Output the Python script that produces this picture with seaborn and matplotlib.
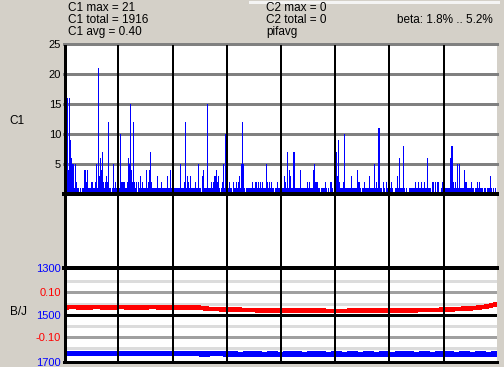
import matplotlib
matplotlib.use("Agg")
import matplotlib.pyplot as plt
import seaborn as sns

# ---------------- data ----------------
header_left = ["C1 max = 21", "C1 total = 1916", "C1 avg = 0.40"]
header_mid = ["C2 max = 0", "C2 total = 0", "pifavg"]
header_right = "beta: 1.8% .. 5.2%"

c1_ticks = [5, 10, 15, 20, 25]
bj_ticks = [1300, 1500, 1700]
red_ticks = [0.10, -0.10]
red_tick_labels = ["0.10", "-0.10"]
red_minor = [0.15, 0.05, -0.05, -0.15]

# C1 counts per screen column
c1_counts = [
    11, 11, 5, 16, 4, 16, 9, 6, 5, 5, 1, 5, 2, 1, 1, 0,
    1, 0, 1, 1, 4, 4, 2, 4, 1, 1, 1, 2, 2, 1, 1, 2,
    5, 1, 21, 3, 6, 4, 7, 2, 1, 2, 3, 2, 12, 1, 1, 0,
    1, 5, 1, 2, 1, 1, 1, 1, 10, 2, 2, 2, 2, 1, 1, 2,
    6, 5, 15, 4, 2, 12, 2, 1, 2, 0, 2, 1, 3, 1, 2, 1,
    1, 1, 4, 1, 2, 4, 7, 2, 1, 1, 1, 1, 1, 3, 1, 1,
    1, 2, 1, 1, 1, 1, 1, 3, 1, 1, 4, 1, 1, 1, 1, 1,
    1, 1, 1, 1, 5, 1, 1, 1, 2, 12, 1, 3, 2, 1, 3, 1,
    1, 1, 1, 2, 1, 1, 5, 1, 1, 0, 3, 4, 1, 1, 1, 15,
    1, 1, 1, 2, 1, 2, 3, 3, 4, 2, 3, 1, 0, 1, 2, 5,
    1, 10, 10, 5, 1, 2, 1, 1, 0, 2, 1, 1, 2, 1, 2, 3,
    1, 5, 12, 5, 1, 0, 1, 1, 1, 1, 1, 1, 2, 1, 1, 2,
    2, 1, 2, 1, 2, 1, 2, 1, 1, 1, 5, 2, 1, 2, 1, 2,
    1, 1, 0, 1, 1, 2, 1, 1, 1, 1, 1, 1, 3, 2, 1, 7,
    1, 4, 3, 1, 1, 7, 7, 1, 1, 1, 1, 1, 4, 1, 1, 1,
    1, 1, 1, 2, 1, 2, 1, 1, 1, 4, 5, 2, 2, 2, 1, 1,
    0, 1, 1, 1, 1, 2, 1, 0, 1, 0, 2, 2, 1, 0, 1, 2,
    7, 3, 9, 2, 1, 1, 1, 2, 10, 1, 1, 1, 1, 1, 1, 3,
    1, 1, 1, 1, 1, 4, 2, 2, 1, 0, 1, 1, 2, 1, 1, 1,
    1, 3, 1, 1, 1, 1, 5, 1, 2, 1, 11, 11, 1, 1, 0, 2,
    1, 0, 2, 1, 1, 1, 1, 2, 1, 0, 0, 1, 1, 3, 1, 6,
    1, 1, 1, 8, 1, 0, 1, 0, 0, 1, 1, 1, 1, 1, 1, 2,
    1, 1, 2, 1, 1, 2, 1, 1, 2, 1, 1, 6, 1, 1, 1, 0,
    2, 2, 0, 2, 0, 2, 2, 0, 0, 1, 2, 1, 1, 1, 1, 1,
    1, 1, 6, 8, 8, 2, 1, 2, 1, 5, 1, 5, 1, 1, 1, 1,
    4, 2, 2, 1, 1, 1, 1, 2, 1, 1, 0, 1, 1, 2, 1, 2,
    1, 1, 1, 0, 1, 1, 0, 1, 1, 1, 3, 1, 0, 1, 0, 1,
    0,
]
bar_idx = list(range(len(c1_counts)))

# B/J lines, sampled every 8 columns
line_x = list(range(0, 433, 8))
red_vals = [
    0.033, 0.034, 0.033, 0.033, 0.034, 0.033, 0.033, 0.034, 0.033, 0.033,
    0.033, 0.034, 0.033, 0.032, 0.032, 0.032, 0.031, 0.031, 0.026, 0.025,
    0.024, 0.023, 0.022, 0.021, 0.020, 0.020, 0.020, 0.019, 0.019, 0.019,
    0.019, 0.018, 0.018, 0.017, 0.017, 0.017, 0.018, 0.018, 0.018, 0.019,
    0.020, 0.020, 0.020, 0.020, 0.020, 0.021, 0.021, 0.022, 0.023, 0.025,
    0.027, 0.029, 0.033, 0.038, 0.047,
]
blue_vals = [
    1665, 1666, 1665, 1666, 1665, 1666, 1666, 1665, 1666, 1665,
    1666, 1665, 1666, 1666, 1665, 1666, 1666, 1667, 1667, 1666,
    1667, 1667, 1668, 1667, 1667, 1668, 1667, 1668, 1667, 1667,
    1668, 1667, 1667, 1668, 1667, 1668, 1667, 1668, 1667, 1668,
    1667, 1668, 1667, 1667, 1668, 1667, 1668, 1667, 1667, 1668,
    1667, 1668, 1667, 1668, 1667,
]

# ---------------- style ----------------
plt.rcParams["font.family"] = ["Liberation Sans", "DejaVu Sans"]
plt.rcParams["lines.antialiased"] = False

W, H = 504, 367
BG = "#D4D0C8"
BLUE = "#0000FF"
RED = "#FF0000"
FS = 8
FS_HEAD = 8.5


def px2pt(p):
    return p * 72.0 / 100.0


def rect(x0, y0, x1, y1):
    return [x0 / W, 1 - y1 / H, (x1 - x0) / W, (y1 - y0) / H]


def ftext(x, y, s, size=FS, **kw):
    fig.text(x / W, 1 - y / H, s, fontsize=size, **kw)


fig = plt.figure(figsize=(W / 100, H / 100), dpi=100, facecolor=BG)

# white plotting area
ax_bg = fig.add_axes(rect(64, 44.5, 497, 363))
ax_bg.set_facecolor("white")
ax_bg.set_xticks([])
ax_bg.set_yticks([])
for s in ax_bg.spines.values():
    s.set_visible(False)

# top strip line
fig.add_artist(plt.Line2D([250 / W, 498 / W], [1 - 1.5 / H, 1 - 1.5 / H],
                          color="#F4F4F4", lw=px2pt(1.2)))

# ---------------- C1 bars ----------------
ax_top = fig.add_axes(rect(64, 44, 497, 194))
ax_top.patch.set_alpha(0)
for v in c1_ticks:
    ax_top.axhline(v, color="#808080", lw=px2pt(1.3), zorder=0, clip_on=False)
sns.barplot(x=bar_idx, y=c1_counts, native_scale=True, width=1,
            color=BLUE, saturation=1, errorbar=None, linewidth=0,
            ax=ax_top, zorder=2)
for p in ax_top.patches:
    p.set_snap(False)
    p.set_antialiased(True)
    p.set_edgecolor("none")
ax_top.axhline(0, color="black", lw=px2pt(2.2), zorder=3, clip_on=False)
ax_top.set_xlim(-0.5, len(c1_counts) - 0.5)
ax_top.set_ylim(0, 25)
ax_top.set_yticks(c1_ticks)
ax_top.set_yticklabels([str(v) for v in c1_ticks], fontsize=FS)
ax_top.tick_params(axis="y", length=0, pad=px2pt(3))
ax_top.set_xticks([])
ax_top.set_xlabel("")
ax_top.set_ylabel("")
for s in ax_top.spines.values():
    s.set_visible(False)

# ---------------- B/J lines ----------------
ax_bot = fig.add_axes(rect(64, 267.7, 497, 361.7))
ax_bot.patch.set_alpha(0)
ax_bot.set_ylim(1700, 1300)
ax_bot.set_xlim(-0.5, len(c1_counts) - 0.5)

ax_red = ax_bot.twinx()
ax_red.set_ylim(-0.21, 0.21)
ax_red.set_xlim(-0.5, len(c1_counts) - 0.5)
for v in red_minor:
    ax_red.axhline(v, color="#DCDCDC", lw=px2pt(1.2), zorder=0)
for v in red_ticks:
    ax_red.axhline(v, color="#A0A0A0", lw=px2pt(1.2), zorder=0)

ax_bot.axhline(1300, color="black", lw=px2pt(2.2), zorder=3, clip_on=False)
ax_bot.axhline(1500, color="black", lw=px2pt(1.3), zorder=3)
ax_bot.axhline(1700, color="black", lw=px2pt(1.3), zorder=3, clip_on=False)

sns.lineplot(x=line_x, y=blue_vals, ax=ax_bot, color=BLUE,
             linewidth=px2pt(4.2), legend=False, zorder=4)
sns.lineplot(x=line_x, y=red_vals, ax=ax_red, color=RED,
             linewidth=px2pt(3.6), legend=False, zorder=4)

ax_bot.set_yticks(bj_ticks)
ax_bot.set_yticklabels([str(v) for v in bj_ticks], fontsize=FS, color=BLUE)
ax_bot.tick_params(axis="y", length=0, pad=px2pt(3))
ax_bot.set_xticks([])
ax_bot.set_xlabel("")
ax_bot.set_ylabel("")

ax_red.yaxis.set_ticks_position("left")
ax_red.set_yticks(red_ticks)
ax_red.set_yticklabels(red_tick_labels, fontsize=FS, color=RED)
ax_red.tick_params(axis="y", length=0, pad=px2pt(3),
                   labelleft=True, labelright=False)
ax_red.set_xticks([])
ax_red.set_xlabel("")
ax_red.set_ylabel("")
for a in (ax_bot, ax_red):
    for s in a.spines.values():
        s.set_visible(False)

# ---------------- vertical divisions ----------------
ax_ov = fig.add_axes(rect(64.1, 44.5, 497.9, 363.5))
ax_ov.patch.set_alpha(0)
ax_ov.set_xlim(0, 8)
ax_ov.set_ylim(0, 1)
ax_ov.vlines(range(1, 8), 0, 1, color="black", lw=px2pt(2))
ax_ov.vlines([0.012], 0, 1, color="black", lw=px2pt(1.3))
ax_ov.set_xticks([])
ax_ov.set_yticks([])
for s in ax_ov.spines.values():
    s.set_visible(False)

# ---------------- texts ----------------
for i, s in enumerate(header_left):
    ftext(68, 11.3 + 12 * i, s, size=FS_HEAD, ha="left", va="baseline")
for i, s in enumerate(header_mid):
    ftext(266.5, 11.3 + 12 * i, s, size=FS_HEAD, ha="left", va="baseline")
ftext(493, 23.3, header_right, size=FS_HEAD, ha="right", va="baseline")
ftext(9, 120.5, "C1", size=FS_HEAD, ha="left", va="center")
ftext(10, 311.7, "B/J", size=FS_HEAD, ha="left", va="center")

fig.savefig("out.png", dpi=100, facecolor=BG)
